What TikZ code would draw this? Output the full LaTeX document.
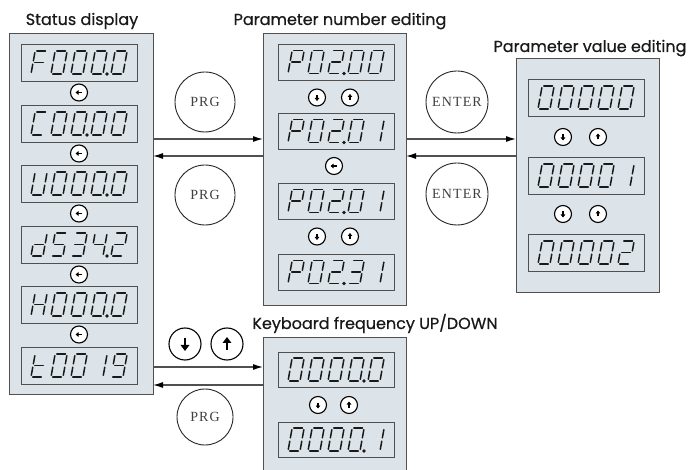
\documentclass[tikz,border=0pt]{standalone}
\usepackage{fontspec}
\setmainfont{Poppins}
\newfontfamily\titlefont{Poppins}[FakeBold=0.6]
\newfontfamily\serifbtn{Liberation Serif}[LetterSpace=8]
\usetikzlibrary{arrows.meta}
\definecolor{panelfill}{RGB}{221,228,233}
\definecolor{edge}{RGB}{80,80,80}
\definecolor{segcol}{RGB}{25,25,25}
% seven segment geometry (local, y up = negative)
\def\sga{(1.7,-23) -- (10.3,-23)}
\def\sgb{(12,-21.3) -- (12,-13.2)}
\def\sgc{(12,-9.8) -- (12,-1.7)}
\def\sgd{(1.7,0) -- (10.3,0)}
\def\sge{(0,-1.7) -- (0,-9.8)}
\def\sgf{(0,-13.2) -- (0,-21.3)}
\def\sgg{(1.7,-11.5) -- (10.3,-11.5)}
% characters
\def\sdO{a,b,c,d,e,f}
\def\sdOne{b,c}
\def\sdTwo{a,b,g,e,d}
\def\sdThree{a,b,g,c,d}
\def\sdFour{f,g,b,c}
\def\sdFive{a,f,g,c,d}
\def\sdNine{a,b,c,d,f,g}
\def\sdF{a,e,f,g}
\def\sdC{a,d,e,f}
\def\sdU{b,c,d,e,f}
\def\sdd{b,c,d,e,g}
\def\sdH{b,c,e,f,g}
\def\sdt{d,e,f,g}
\def\sdP{a,b,e,f,g}
\tikzset{
 panel/.style={draw=edge, fill=panelfill, line width=1pt, inner sep=0pt, outer sep=0pt, anchor=north west},
 lcdbox/.style={draw=edge, line width=0.9pt, fill=panelfill, inner sep=0pt, outer sep=0pt, anchor=north west, minimum width=116pt},
 seg/.style={draw=segcol, line width=1.5pt, line cap=round},
 key/.style={circle, draw=black, line width=1.1pt, fill=white, minimum size=17pt, inner sep=0pt},
 bigkey/.style={circle, draw=black, line width=1.1pt, fill=white, minimum size=32pt, inner sep=0pt},
 btn/.style={circle, draw=black!85, line width=0.9pt, inner sep=0pt, fill=white, font=\serifbtn\fontsize{14}{14}\selectfont, text=black!75},
 flow/.style={draw=edge, line width=1.2pt, -{Latex[length=10pt,width=6pt,color=black]}},
 title/.style={font=\titlefont\fontsize{16}{18}\selectfont, text=black!90, anchor=base},
 karrow/.style={line width=1.3pt, -{Triangle[length=3pt,width=4.5pt]}},
 bigarrow/.style={line width=2.4pt, -{Triangle[length=6pt,width=8.5pt]}}
}
% display: name, x, y, chars, dot position, height
\newcommand\lcd[6]{%
 \node[lcdbox, minimum height=#6pt] (#1) at (#2,#3) {};
 \foreach \segs [count=\i from 0] in {#4} {%
  \edef\seglist{\segs}%
  \begin{scope}[shift={(#2+10+20*\i, #3+#6/2+11.5)}, xslant=0.18]
   \foreach \sn in \seglist {\edef\tmp{\noexpand\draw[seg] \csname sg\sn\endcsname;}\tmp}
  \end{scope}
 }
 \ifnum#5>0 \fill[segcol] (#2+10+20*#5-4, #3+#6/2+11.5) circle (1.8);\fi
}
\newcommand\keydown[1]{\draw[karrow] ([yshift=2.5pt]#1.center) -- ([yshift=-3.5pt]#1.center);}
\newcommand\keyup[1]{\draw[karrow] ([yshift=-2.5pt]#1.center) -- ([yshift=3.5pt]#1.center);}
\newcommand\keyleft[1]{\draw[karrow] ([xshift=2.5pt]#1.center) -- ([xshift=-3.5pt]#1.center);}
\begin{document}
\begin{tikzpicture}[x=1pt,y=-1pt]
\useasboundingbox (0,0) rectangle (691,470);
\clip (0,0) rectangle (691,470);
% titles
\node[title] (tst) at (82,25) {Status display};
\node[title] (tpn) at (340,25) {Parameter number editing};
\node[title] (tpv) at (590,52) {Parameter value editing};
\node[title] (tkb) at (375,329) {Keyboard frequency UP/DOWN};
% panels
\node[panel, minimum width=144pt, minimum height=360pt] (st) at (9,34) {};
\node[panel, minimum width=143pt, minimum height=272pt] (pn) at (263,34) {};
\node[panel, minimum width=143pt, minimum height=234pt] (pv) at (516,59) {};
\node[panel, minimum width=143pt, minimum height=145pt] (kb) at (263,338) {};
% status displays
\lcd{s1}{21}{44}{\sdF,\sdO,\sdO,\sdO,\sdO}{4}{37}
\lcd{s2}{21}{105}{\sdC,\sdO,\sdO,\sdO,\sdO}{3}{37}
\lcd{s3}{21}{165}{\sdU,\sdO,\sdO,\sdO,\sdO}{4}{37}
\lcd{s4}{21}{226}{\sdd,\sdFive,\sdThree,\sdFour,\sdTwo}{4}{37}
\lcd{s5}{21}{286}{\sdH,\sdO,\sdO,\sdO,\sdO}{4}{37}
\lcd{s6}{21}{347}{\sdt,\sdO,\sdO,\sdOne,\sdNine}{0}{37}
\foreach \yy [count=\k] in {92.5,153.5,213.5,274.5,334.5} {
 \node[key] (sk\k) at (79,\yy) {};
 \keyleft{sk\k}
}
% parameter number displays
\lcd{p1}{278}{44}{\sdP,\sdO,\sdTwo,\sdO,\sdO}{3}{36}
\lcd{p2}{278}{113}{\sdP,\sdO,\sdTwo,\sdO,\sdOne}{3}{36}
\lcd{p3}{278}{183}{\sdP,\sdO,\sdTwo,\sdO,\sdOne}{3}{36}
\lcd{p4}{278}{254}{\sdP,\sdO,\sdTwo,\sdThree,\sdOne}{3}{36}
\node[key] (pk1) at (317,97.5) {}; \keydown{pk1}
\node[key] (pk2) at (350,97.5) {}; \keyup{pk2}
\node[key] (pk3) at (334,166) {}; \keyleft{pk3}
\node[key] (pk4) at (317,236.5) {}; \keydown{pk4}
\node[key] (pk5) at (350,236.5) {}; \keyup{pk5}
% parameter value displays
\lcd{v1}{528}{79}{\sdO,\sdO,\sdO,\sdO,\sdO}{0}{37}
\lcd{v2}{528}{157}{\sdO,\sdO,\sdO,\sdO,\sdOne}{0}{37}
\lcd{v3}{528}{234}{\sdO,\sdO,\sdO,\sdO,\sdTwo}{0}{37}
\node[key] (vk1) at (563,137) {}; \keydown{vk1}
\node[key] (vk2) at (598,137) {}; \keyup{vk2}
\node[key] (vk3) at (563,214) {}; \keydown{vk3}
\node[key] (vk4) at (598,214) {}; \keyup{vk4}
% keyboard frequency displays
\lcd{k1}{278}{352}{\sdO,\sdO,\sdO,\sdO,\sdO}{4}{35}
\lcd{k2}{278}{422}{\sdO,\sdO,\sdO,\sdO,\sdOne}{4}{35}
\node[key] (kk1) at (318,405) {}; \keydown{kk1}
\node[key] (kk2) at (349,405) {}; \keyup{kk2}
% buttons
\node[btn, minimum size=60pt] (prg1) at (205,102) {PRG};
\node[btn, minimum size=60pt] (prg2) at (205,195) {PRG};
\node[btn, minimum size=62pt] (ent1) at (457,102) {ENTER};
\node[btn, minimum size=62pt] (ent2) at (457,194) {ENTER};
\node[btn, minimum size=56pt] (prg3) at (205,417) {PRG};
\node[bigkey] (bd) at (185,344) {}; \draw[bigarrow] ([yshift=6pt]bd.center) -- ([yshift=-7pt]bd.center);
\node[bigkey] (bu) at (227,344) {}; \draw[bigarrow] ([yshift=-6pt]bu.center) -- ([yshift=7pt]bu.center);
% connectors
\coordinate (r1) at (0,139);
\coordinate (r2) at (0,156);
\coordinate (r3) at (0,367);
\coordinate (r4) at (0,385);
\draw[flow] (st.east |- r1) -- (pn.west |- r1);
\draw[flow] (pn.west |- r2) -- (st.east |- r2);
\draw[flow] (pn.east |- r1) -- (pv.west |- r1);
\draw[flow] (pv.west |- r2) -- (pn.east |- r2);
\draw[flow] (st.east |- r3) -- (kb.west |- r3);
\draw[flow] (kb.west |- r4) -- (st.east |- r4);
\end{tikzpicture}
\end{document}
